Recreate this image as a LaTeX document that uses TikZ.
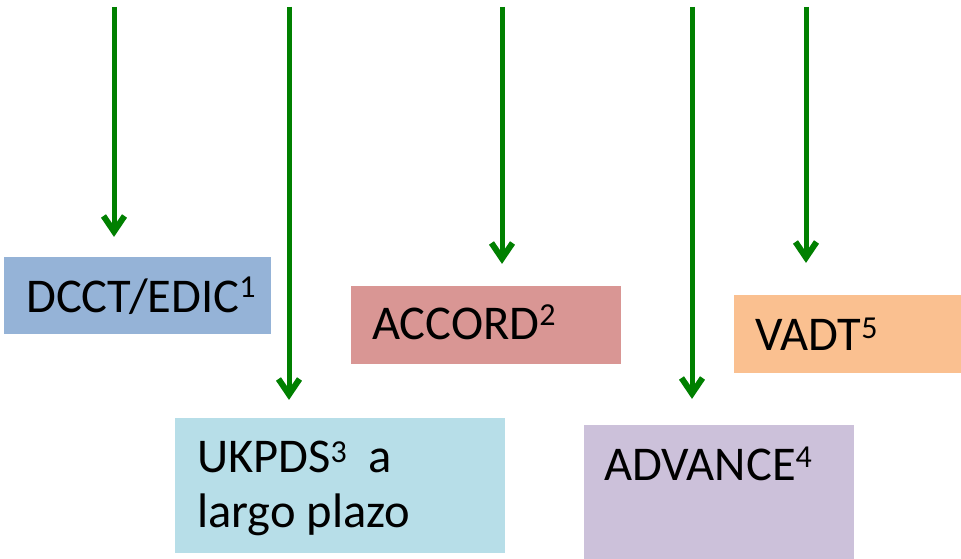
\documentclass[tikz,border=0pt]{standalone}
\usepackage{fontspec}
\setmainfont{Carlito}[Numbers=Lining]

\definecolor{arrowgreen}{RGB}{0,128,0}
\definecolor{boxblue}{RGB}{149,179,215}
\definecolor{boxred}{RGB}{217,150,148}
\definecolor{boxorange}{RGB}{250,192,144}
\definecolor{boxcyan}{RGB}{183,222,232}
\definecolor{boxviolet}{RGB}{204,193,218}

% superscript reference number, optional raise
\newcommand{\refnum}[2][14pt]{\raisebox{#1}{\fontsize{32}{32}\selectfont #2}}

\begin{document}
\begin{tikzpicture}[x=1pt,y=-1pt,
  trialbox/.style={draw=none,rectangle,inner sep=0pt,anchor=north west},
  trialtext/.style={anchor=base west,inner sep=0pt,font=\fontsize{48.5}{57}\selectfont},
  shaft/.style={line width=5pt},
  barb/.style={line width=6pt,line join=miter,miter limit=10},
  green/.style={draw=arrowgreen},
  haze/.style={draw=black,opacity=0.13}
]
\useasboundingbox (0,0) rectangle (961,559);

% coloured trial boxes
\node[trialbox,fill=boxblue,minimum width=267pt,minimum height=77pt] (dcct) at (4,257) {};
\node[trialbox,fill=boxred,minimum width=270pt,minimum height=78pt] (accord) at (351,286) {};
\node[trialbox,fill=boxorange,minimum width=227pt,minimum height=78pt] (vadt) at (734,295) {};
\node[trialbox,fill=boxcyan,minimum width=330pt,minimum height=135pt] (ukpds) at (175,418) {};
\node[trialbox,fill=boxviolet,minimum width=270pt,minimum height=134pt] (advance) at (584,425) {};

% box labels
\node[trialtext] (dcctlbl) at (26,312) {DCCT/EDIC\refnum[15pt]{1}};
\node[trialtext] (accordlbl) at (372,339) {ACCORD\refnum[14pt]{2}};
\node[trialtext] (vadtlbl) at (755,350) {VADT\refnum[12pt]{5}};
\node[trialtext] (ukpdslbl) at (197,472)
  {\vtop{\baselineskip=55pt\hbox{UKPDS\refnum[10pt]{3}\ \ a}\hbox{largo plazo}}};
\node[trialtext] (advancelbl) at (604,480) {ADVANCE\refnum[13pt]{4}};

% arrow start points and tip points
\coordinate (s1) at (114,7);  \coordinate (e1) at (114,237);
\coordinate (s2) at (289,7);  \coordinate (e2) at (289,400);
\coordinate (s3) at (502,7);  \coordinate (e3) at (502,264);
\coordinate (s4) at (692,7);  \coordinate (e4) at (692,399);
\coordinate (s5) at (806,7);  \coordinate (e5) at (806,263);

% soft shadows, then the green arrows (shaft plus open V head)
\foreach \st/\dx/\dy in {haze/1.5/2, green/0/0}{
  \begin{scope}[shift={(\dx,\dy)}]
  \foreach \i in {1,...,5}{
    \draw[\st,shaft] (s\i) -- ([yshift=8pt]e\i);
    \draw[\st,barb] ([shift={(-10.5,-21)}]e\i) -- ([shift={(0,-5.5)}]e\i)
                    -- ([shift={(10.5,-21)}]e\i);
  }
  \end{scope}
}
\end{tikzpicture}
\end{document}
